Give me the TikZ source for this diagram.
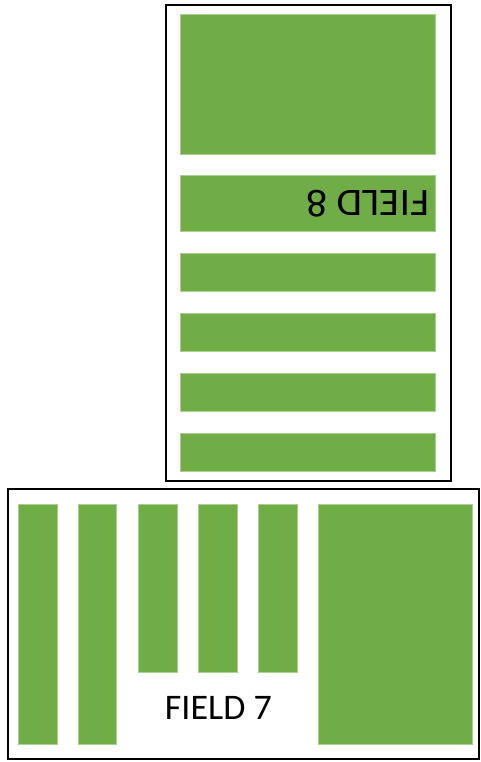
\documentclass[tikz,border=0pt]{standalone}
\usepackage{fontspec}
\setmainfont{Carlito}
\definecolor{fieldgreen}{HTML}{70AD47}
\definecolor{edgegreen}{HTML}{A9D08E}
\begin{document}
\begin{tikzpicture}[x=1pt,y=-1pt,
  plot/.style={fill=fieldgreen,draw=edgegreen,line width=0.5pt},
  frame/.style={draw=black,line width=2pt},
  label/.style={inner sep=0pt,font=\fontsize{36}{36}\selectfont}]
\useasboundingbox (0,0) rectangle (480,762);
% Field 8
\draw[frame] (165.5,5) rectangle (451,481);
\path[plot] (180.5,14) rectangle (435.5,154);
\path[plot] (180.5,175.5) rectangle (435.5,231);
\path[plot] (180.5,253) rectangle (435.5,291.5);
\path[plot] (180.5,313.5) rectangle (435.5,351.5);
\path[plot] (180.5,373) rectangle (435.5,411.5);
\path[plot] (180.5,433.5) rectangle (435.5,471.5);
\node[label,rotate=180,xscale=1.06,font=\fontsize{39}{39}\selectfont] (f8) at (368,203.3) {FIELD 8};
% Field 7
\draw[frame] (8,489) rectangle (479,758.5);
\path[plot] (18,504.5) rectangle (57,744.5);
\path[plot] (78.5,504.5) rectangle (116.5,744.5);
\path[plot] (138.5,504.5) rectangle (177,672.5);
\path[plot] (198.5,504.5) rectangle (237,672.5);
\path[plot] (258,504.5) rectangle (297,672.5);
\path[plot] (318.5,504.5) rectangle (472.5,744.5);
\node[label] (f7) at (218.4,708) {FIELD 7};
\end{tikzpicture}
\end{document}
